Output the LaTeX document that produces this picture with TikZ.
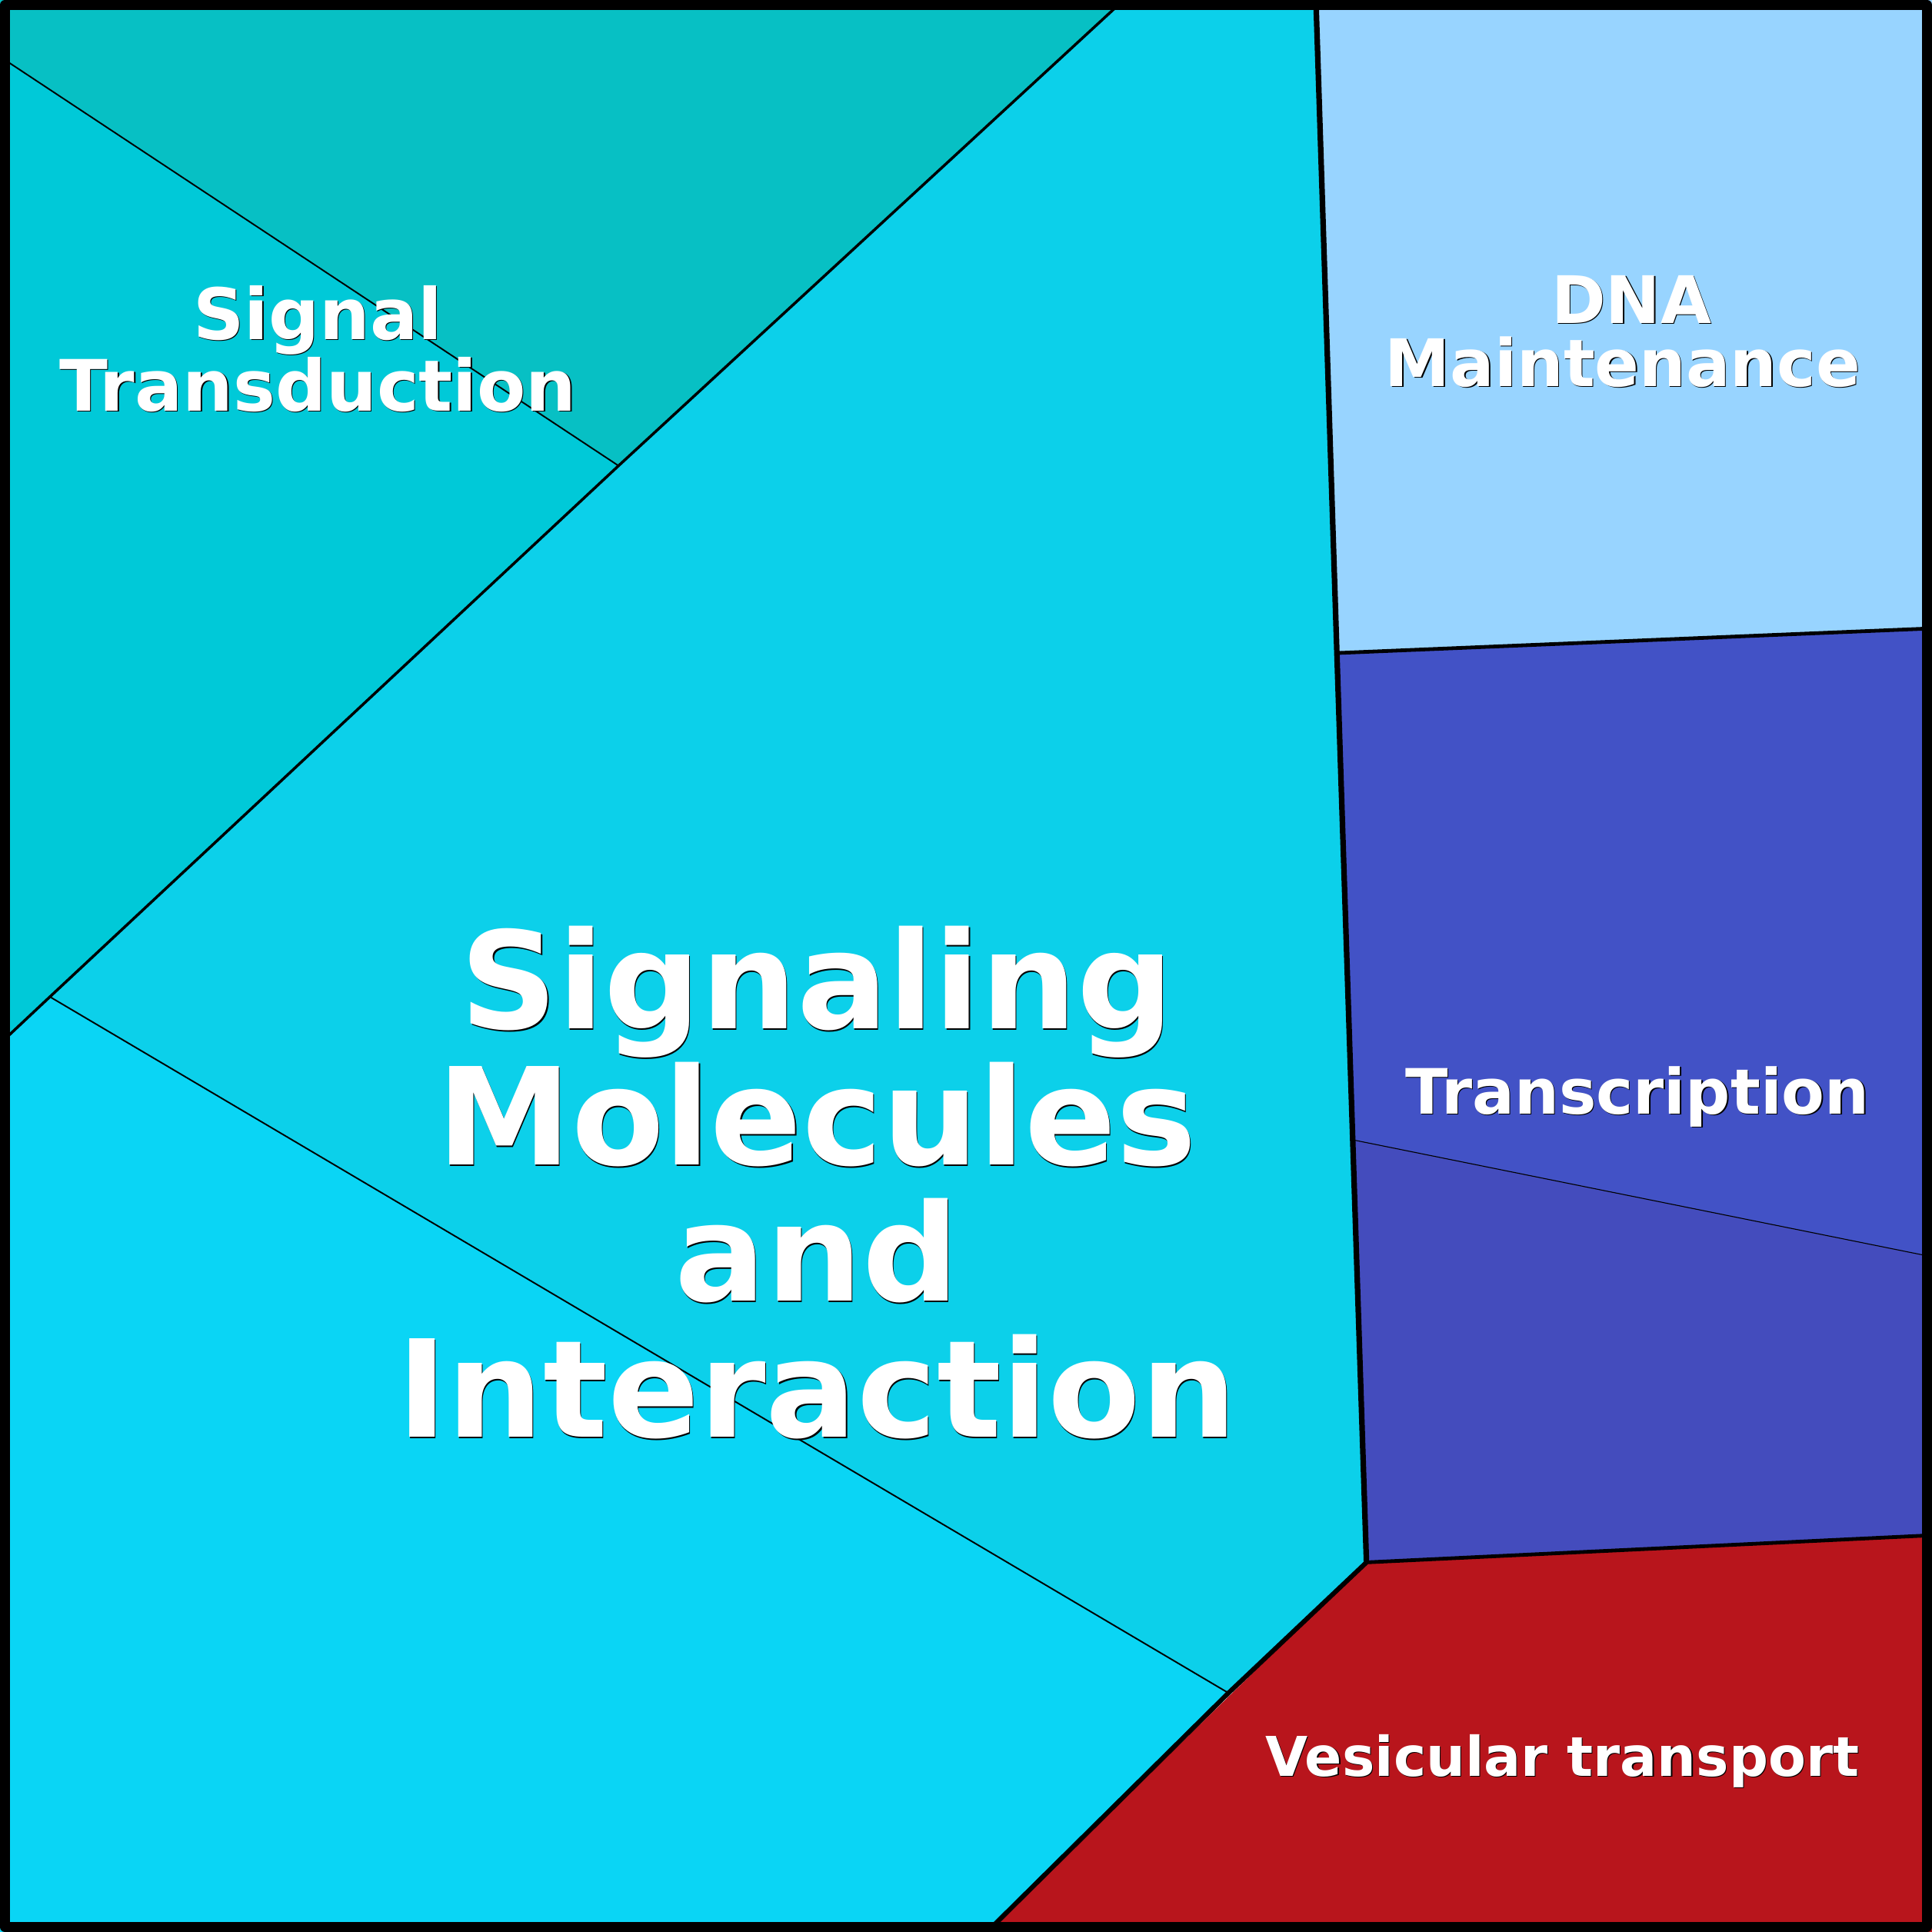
\documentclass[tikz,border=0pt]{standalone}
\usepackage{fontspec}
\setmainfont{DejaVu Sans}
\definecolor{topteal}{HTML}{07C0C4}
\definecolor{leftteal}{HTML}{00C9D8}
\definecolor{midcyan}{HTML}{0CD0EA}
\definecolor{lowcyan}{HTML}{0AD5F5}
\definecolor{dnablue}{HTML}{98D4FF}
\definecolor{transa}{HTML}{4252C6}
\definecolor{transb}{HTML}{444CBD}
\definecolor{vesred}{HTML}{B8151C}
\begin{document}
\begin{tikzpicture}[x=1pt,y=-1pt,line join=round,
	lvlone/.style={draw=black,line width=4.5pt},
	lvltwo/.style={draw=black,line width=3pt},
	lvlthree/.style={draw=black,line width=2.2pt},
	lvlfour/.style={draw=black,line width=1.2pt},
	lvlfive/.style={draw=black,line width=0.7pt},
	lbl/.style={text=white,align=center,inner sep=0pt},
	lblshadow/.style={lbl,text=black,xshift=0.8pt,yshift=-0.8pt}]
	\useasboundingbox (0,0) rectangle (1568,1568);
	% corners of the cells
	\coordinate (a) at (912,0);
	\coordinate (b) at (1068,0);
	\coordinate (c) at (0,46);
	\coordinate (d) at (502,378);
	\coordinate (e) at (40.5,809);
	\coordinate (f) at (0,847);
	\coordinate (g) at (997,1374);
	\coordinate (h) at (1109,1268);
	\coordinate (k) at (801,1568);
	\coordinate (m) at (1085,530);
	\coordinate (n) at (1568,510);
	\coordinate (p) at (1097.5,925);
	\coordinate (q) at (1568,1020);
	\coordinate (r) at (1568,1246);
	% cells
	\fill[topteal]  (0,0) -- (a) -- (d) -- (c) -- cycle;
	\fill[leftteal] (c) -- (d) -- (e) -- (f) -- cycle;
	\fill[midcyan]  (a) -- (b) -- (m) -- (h) -- (g) -- (e) -- (d) -- cycle;
	\fill[lowcyan]  (f) -- (e) -- (g) -- (k) -- (0,1568) -- cycle;
	\fill[dnablue]  (b) -- (1568,0) -- (n) -- (m) -- cycle;
	\fill[transa]   (m) -- (n) -- (q) -- (p) -- cycle;
	\fill[transb]   (p) -- (q) -- (r) -- (h) -- cycle;
	\fill[vesred]   (h) -- (r) -- (1568,1568) -- (k) -- cycle;
	% borders
	\draw[lvlfour] (c) -- (d);
	\draw[lvlfour] (e) -- (g);
	\draw[lvlfive] (p) -- (q);
	\draw[lvlthree] (a) -- (d) -- (e) -- (f);
	\draw[lvltwo] (m) -- (n);
	\draw[lvltwo] (h) -- (r);
	\draw[lvlone] (b) -- (m) -- (h);
	\draw[lvlone,line width=3.8pt] (h) -- (g) -- (k);
	% labels
	\node[lblshadow,font=\bfseries\fontsize{57.6}{58}\selectfont] (sigtshadow) at (258,283) {Signal\\Transduction};
	\node[lbl,font=\bfseries\fontsize{57.6}{58}\selectfont] (sigt) at (258,283) {Signal\\Transduction};
	\node[lblshadow,font=\bfseries\fontsize{53.2}{51}\selectfont] (dnashadow) at (1317,269) {\hspace*{14pt}DNA\\Maintenance};
	\node[lbl,font=\bfseries\fontsize{53.2}{51}\selectfont] (dna) at (1317,269) {\hspace*{14pt}DNA\\Maintenance};
	\node[lblshadow,font=\bfseries\fontsize{50.8}{50}\selectfont] (transshadow) at (1329,890) {Transcription};
	\node[lbl,font=\bfseries\fontsize{50.8}{50}\selectfont] (trans) at (1329,890) {Transcription};
	\node[lblshadow,font=\bfseries\fontsize{44.5}{44}\selectfont] (vesshadow) at (1268,1429) {Vesicular transport};
	\node[lbl,font=\bfseries\fontsize{44.5}{44}\selectfont] (ves) at (1268,1429) {Vesicular transport};
	\node[lblshadow,font=\bfseries\fontsize{109.6}{110.5}\selectfont] (smishadow) at (663,960) {Signaling\\Molecules\\and\\Interaction};
	\node[lbl,font=\bfseries\fontsize{109.6}{110.5}\selectfont] (smi) at (663,960) {Signaling\\Molecules\\and\\Interaction};
	% frame
	\draw[draw=black,line width=8pt] (4,4) rectangle (1564,1564);
\end{tikzpicture}
\end{document}
